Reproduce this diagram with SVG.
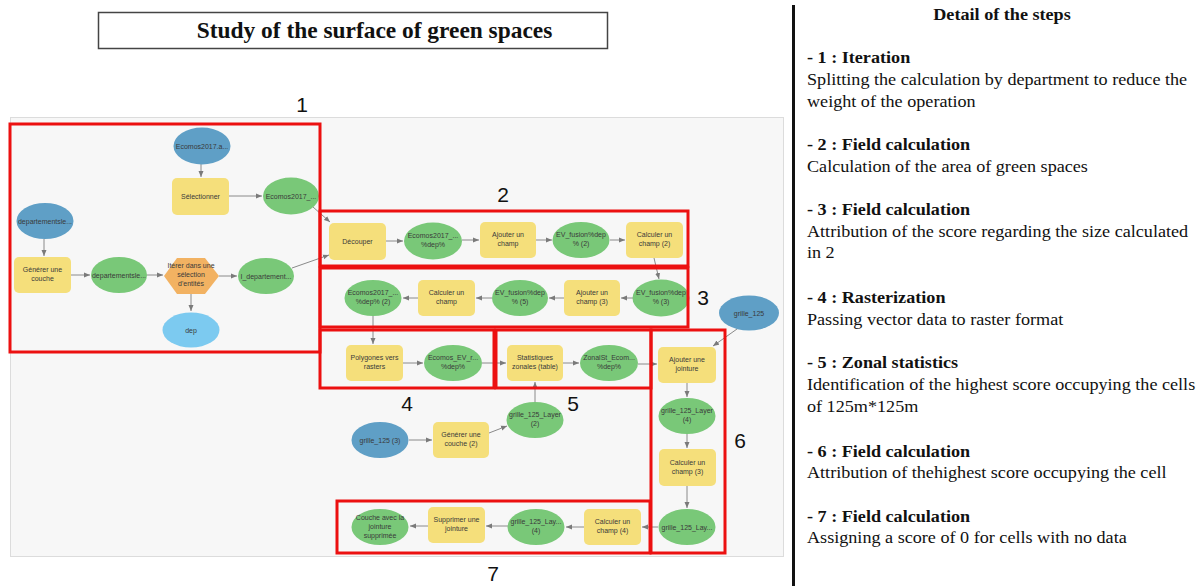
<svg xmlns="http://www.w3.org/2000/svg" width="1203" height="586" viewBox="0 0 1203 586">
<style>
.bg{fill:#fff}
.panel{fill:#f7f7f7;stroke:#dcdcdc;stroke-width:1}
.inp{fill:#5f9fc6}
.inp2{fill:#7ccaf0}
.dat{fill:#79c878}
.tool{fill:#f5df7b}
.iter{fill:#f2b262}
.t{font-family:"Liberation Sans",Arial,sans-serif;font-size:7px;fill:#3a3a3a;text-anchor:middle}
.red{fill:none;stroke:#ec1010;stroke-width:3}
.num{font-family:"Liberation Sans",Arial,sans-serif;font-size:21px;fill:#111;text-anchor:middle}
.conn line{stroke:#8a8a8a;stroke-width:1;marker-end:url(#ah)}
.h{font-family:"Liberation Serif","Times New Roman",serif;font-size:16.5px;font-weight:bold;fill:#111}
.b{font-family:"Liberation Serif","Times New Roman",serif;font-size:16.5px;fill:#111}
</style>
<defs>
<marker id="ah" markerUnits="userSpaceOnUse" markerWidth="6" markerHeight="6" refX="6" refY="3" orient="auto">
<path d="M0,0.5 L6,3 L0,5.5 z" fill="#7a7a7a"/>
</marker>
</defs>
<rect class="bg" x="0" y="0" width="1203" height="586"/>

<g id="title">
<rect x="98.5" y="12.5" width="509" height="36" fill="#fff" stroke="#444" stroke-width="1.5"/>
<text x="374.5" y="38" text-anchor="middle" font-family="'Liberation Serif','Times New Roman',serif" font-size="23.4" font-weight="bold" fill="#111">Study of the surface of green spaces</text>
</g>

<rect class="panel" x="10.5" y="117.5" width="773" height="439"/>

<g id="connectors" class="conn">
<line x1="201" y1="164" x2="201" y2="177"/>
<line x1="228" y1="196" x2="262" y2="196"/>
<line x1="44" y1="239" x2="44" y2="256"/>
<line x1="71" y1="275" x2="90" y2="275"/>
<line x1="147" y1="275" x2="163" y2="275"/>
<line x1="219" y1="276" x2="237" y2="276"/>
<line x1="191" y1="294" x2="191" y2="311"/>
<line x1="313" y1="207" x2="330" y2="222"/>
<line x1="292" y1="268" x2="329" y2="255"/>
<line x1="386" y1="241" x2="403" y2="241"/>
<line x1="462" y1="240" x2="479" y2="240"/>
<line x1="536" y1="240" x2="552" y2="240"/>
<line x1="610" y1="240" x2="625" y2="240"/>
<line x1="654" y1="258" x2="659" y2="279"/>
<line x1="633" y1="298" x2="621" y2="298"/>
<line x1="564" y1="298" x2="549" y2="298"/>
<line x1="492" y1="298" x2="476" y2="298"/>
<line x1="418" y1="298" x2="403" y2="298"/>
<line x1="373" y1="316" x2="373" y2="344"/>
<line x1="403" y1="363" x2="423" y2="363"/>
<line x1="482" y1="363" x2="506" y2="363"/>
<line x1="563" y1="363" x2="579" y2="363"/>
<line x1="638" y1="364" x2="657" y2="364"/>
<line x1="737" y1="329" x2="713" y2="346"/>
<line x1="687" y1="383" x2="687" y2="397"/>
<line x1="687" y1="434" x2="687" y2="448"/>
<line x1="687" y1="486" x2="687" y2="508"/>
<line x1="658" y1="527" x2="642" y2="527"/>
<line x1="584" y1="527" x2="566" y2="527"/>
<line x1="508" y1="526" x2="486" y2="526"/>
<line x1="428" y1="526" x2="410" y2="526"/>
<line x1="409" y1="440" x2="432" y2="440"/>
<line x1="489" y1="433" x2="507" y2="426"/>
<line x1="535" y1="402" x2="535" y2="382"/>
</g>

<!-- Group 1 -->
<g id="n-ecomos-a"><ellipse class="inp" cx="202" cy="146" rx="28.5" ry="18.5"/><text class="t" x="202" y="148.5">Ecomos2017.a...</text></g>
<g id="n-selectionner"><rect class="tool" x="172" y="178" width="57" height="37" rx="5"/><text class="t" x="200.5" y="199">Sélectionner</text></g>
<g id="n-ecomos-sel"><ellipse class="dat" cx="291" cy="196" rx="28" ry="18.5"/><text class="t" x="291" y="198.5">Ecomos2017_...</text></g>
<g id="n-dep-in"><ellipse class="inp" cx="45" cy="221" rx="28.5" ry="18"/><text class="t" x="45" y="223.5">departementsle...</text></g>
<g id="n-generer"><rect class="tool" x="14" y="257" width="57" height="36" rx="5"/><text class="t" x="42.5" y="272">Générer une</text><text class="t" x="42.5" y="281">couche</text></g>
<g id="n-dep-layer"><ellipse class="dat" cx="119" cy="275" rx="28" ry="18"/><text class="t" x="119" y="277.5">departementsle...</text></g>
<g id="n-iterer"><polygon class="iter" points="164,276 177,258 205,258 219,276 205,294 177,294"/><text class="t" x="191" y="268">Itérer dans une</text><text class="t" x="191" y="277">sélection</text><text class="t" x="191" y="286">d'entités</text></g>
<g id="n-idep"><ellipse class="dat" cx="266" cy="276" rx="28" ry="18"/><text class="t" x="266" y="278.5">I_departement...</text></g>
<g id="n-dep"><ellipse class="inp2" cx="191" cy="330" rx="28.5" ry="17.5"/><text class="t" x="191" y="332.5">dep</text></g>

<!-- Group 2 -->
<g id="n-decouper"><rect class="tool" x="329" y="223" width="57" height="37" rx="5"/><text class="t" x="357.5" y="244">Découper</text></g>
<g id="n-ecomos-dep"><ellipse class="dat" cx="433" cy="241" rx="29" ry="18.5"/><text class="t" x="433" y="238">Ecomos2017_...</text><text class="t" x="433" y="247">%dep%</text></g>
<g id="n-ajouter"><rect class="tool" x="480" y="222" width="56" height="36" rx="5"/><text class="t" x="508" y="237">Ajouter un</text><text class="t" x="508" y="246">champ</text></g>
<g id="n-ev2"><ellipse class="dat" cx="581" cy="240" rx="28.5" ry="18"/><text class="t" x="581" y="237">EV_fusion%dep</text><text class="t" x="581" y="246">% (2)</text></g>
<g id="n-calc2"><rect class="tool" x="626" y="222" width="57" height="36" rx="5"/><text class="t" x="654.5" y="237">Calculer un</text><text class="t" x="654.5" y="246">champ (2)</text></g>

<!-- Group 3 -->
<g id="n-ev3"><ellipse class="dat" cx="661" cy="298" rx="28.5" ry="18.5"/><text class="t" x="661" y="295">EV_fusion%dep</text><text class="t" x="661" y="304">% (3)</text></g>
<g id="n-ajouter3"><rect class="tool" x="564" y="280" width="56" height="36" rx="5"/><text class="t" x="592" y="295">Ajouter un</text><text class="t" x="592" y="304">champ (3)</text></g>
<g id="n-ev5"><ellipse class="dat" cx="520" cy="298" rx="28" ry="18"/><text class="t" x="520" y="295">EV_fusion%dep</text><text class="t" x="520" y="304">% (5)</text></g>
<g id="n-calc"><rect class="tool" x="418" y="280" width="57" height="36" rx="5"/><text class="t" x="446.5" y="295">Calculer un</text><text class="t" x="446.5" y="304">champ</text></g>
<g id="n-ecomos-dep2"><ellipse class="dat" cx="373" cy="298" rx="28.5" ry="18"/><text class="t" x="373" y="295">Ecomos2017_...</text><text class="t" x="373" y="304">%dep% (2)</text></g>

<!-- Group 4 -->
<g id="n-polygones"><rect class="tool" x="346" y="345" width="57" height="36" rx="5"/><text class="t" x="374.5" y="360">Polygones vers</text><text class="t" x="374.5" y="369">rasters</text></g>
<g id="n-ecomos-ev"><ellipse class="dat" cx="453" cy="363" rx="29" ry="18"/><text class="t" x="453" y="360">Ecomos_EV_r...</text><text class="t" x="453" y="369">%dep%</text></g>

<!-- Group 5 -->
<g id="n-stats"><rect class="tool" x="507" y="345" width="56" height="36" rx="5"/><text class="t" x="535" y="360">Statistiques</text><text class="t" x="535" y="369">zonales (table)</text></g>
<g id="n-zonalst"><ellipse class="dat" cx="609" cy="363" rx="29" ry="18"/><text class="t" x="609" y="360">ZonalSt_Ecom...</text><text class="t" x="609" y="369">%dep%</text></g>
<g id="n-grille"><ellipse class="inp" cx="749" cy="313" rx="30" ry="17.5"/><text class="t" x="749" y="315.5">grille_125</text></g>
<g id="n-grille3"><ellipse class="inp" cx="380" cy="440" rx="28.5" ry="18"/><text class="t" x="380" y="442.5">grille_125 (3)</text></g>
<g id="n-generer2"><rect class="tool" x="433" y="422" width="56" height="36" rx="5"/><text class="t" x="461" y="437">Générer une</text><text class="t" x="461" y="446">couche (2)</text></g>
<g id="n-layer2"><ellipse class="dat" cx="535" cy="420" rx="28.5" ry="18"/><text class="t" x="535" y="417">grille_125_Layer</text><text class="t" x="535" y="426">(2)</text></g>

<!-- Group 6 -->
<g id="n-jointure"><rect class="tool" x="658" y="347" width="58" height="36" rx="5"/><text class="t" x="687" y="362">Ajouter une</text><text class="t" x="687" y="371">jointure</text></g>
<g id="n-layer4"><ellipse class="dat" cx="687" cy="416" rx="28.5" ry="18"/><text class="t" x="687" y="413">grille_125_Layer</text><text class="t" x="687" y="422">(4)</text></g>
<g id="n-calc3"><rect class="tool" x="659" y="449" width="57" height="37" rx="5"/><text class="t" x="687.5" y="464.5">Calculer un</text><text class="t" x="687.5" y="473.5">champ (3)</text></g>
<g id="n-lay"><ellipse class="dat" cx="687" cy="527" rx="28.5" ry="18"/><text class="t" x="687" y="529.5">grille_125_Lay...</text></g>

<!-- Group 7 -->
<g id="n-calc4"><rect class="tool" x="584" y="509" width="57" height="36" rx="5"/><text class="t" x="612.5" y="524">Calculer un</text><text class="t" x="612.5" y="533">champ (4)</text></g>
<g id="n-lay4"><ellipse class="dat" cx="536" cy="527" rx="28.5" ry="18"/><text class="t" x="536" y="524">grille_125_Lay...</text><text class="t" x="536" y="533">(4)</text></g>
<g id="n-supprimer"><rect class="tool" x="428" y="507" width="57" height="36" rx="5"/><text class="t" x="456.5" y="522">Supprimer une</text><text class="t" x="456.5" y="531">jointure</text></g>
<g id="n-couche"><ellipse class="dat" cx="380" cy="527" rx="28.5" ry="18"/><text class="t" x="380" y="520">Couche avec la</text><text class="t" x="380" y="529">jointure</text><text class="t" x="380" y="538">supprimée</text></g>

<g id="step-boxes">
<rect class="red" x="10" y="124" width="310" height="228"/>
<rect class="red" x="320" y="211" width="368" height="55"/>
<rect class="red" x="320" y="268" width="368" height="59"/>
<rect class="red" x="320" y="330" width="174" height="58"/>
<rect class="red" x="496" y="330" width="155" height="58"/>
<rect class="red" x="651" y="330" width="74" height="223"/>
<rect class="red" x="337" y="501" width="313" height="52"/>
</g>

<g id="step-numbers">
<text class="num" x="302" y="112">1</text>
<text class="num" x="503" y="202">2</text>
<text class="num" x="703" y="305">3</text>
<text class="num" x="407" y="411">4</text>
<text class="num" x="573" y="411">5</text>
<text class="num" x="740" y="448">6</text>
<text class="num" x="493" y="581">7</text>
</g>

<line x1="793.5" y1="5" x2="793.5" y2="586" stroke="#111" stroke-width="3"/>

<g id="details" transform="matrix(1.1,0,0,1,-80.7,0)">
<text x="984.3" y="20" text-anchor="middle" font-family="'Liberation Serif','Times New Roman',serif" font-size="16.5" font-weight="bold" fill="#111">Detail of the steps</text>
<text class="h" x="807" y="63">- 1 : Iteration</text>
<text class="b" x="807" y="85">Splitting the calculation by department to reduce the</text>
<text class="b" x="807" y="107">weight of the operation</text>
<text class="h" x="807" y="150">- 2 : Field calculation</text>
<text class="b" x="807" y="172">Calculation of the area of green spaces</text>
<text class="h" x="807" y="215">- 3 : Field calculation</text>
<text class="b" x="807" y="237">Attribution of the score regarding the size calculated</text>
<text class="b" x="807" y="258">in 2</text>
<text class="h" x="807" y="303">- 4 : Rasterization</text>
<text class="b" x="807" y="325">Passing vector data to raster format</text>
<text class="h" x="807" y="368">- 5 : Zonal statistics</text>
<text class="b" x="807" y="390">Identification of the highest score occupying the cells</text>
<text class="b" x="807" y="412">of 125m*125m</text>
<text class="h" x="807" y="457">- 6 : Field calculation</text>
<text class="b" x="807" y="478">Attribution of thehighest score occupying the cell</text>
<text class="h" x="807" y="522">- 7 : Field calculation</text>
<text class="b" x="807" y="543">Assigning a score of 0 for cells with no data</text>
</g>
</svg>
